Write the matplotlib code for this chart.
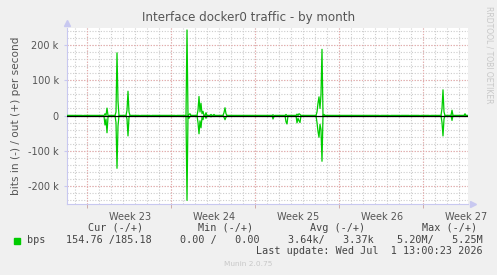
import numpy as np
import matplotlib.pyplot as plt

# month view, one sample every 2 hours, hours counted from the left edge
spike_hours = [32, 74, 76, 78, 80, 82, 98, 100, 102, 120, 122, 124, 146, 168, 218,
               240, 244, 246, 262, 264, 266, 268, 270, 272, 278, 288, 294,
               314, 316, 318, 412, 414, 438, 440, 460, 462, 464, 466,
               500, 502, 504, 506, 508, 510, 514,
               626, 646, 666, 686, 706, 726, 750, 752, 754, 770, 796]
out_k = [0, 0, 5, 0, 21, 0, 10, 178, 40, 15, 69, 10, 0, 0, 0,
         243, 3, 5, 15, 54, 10, 35, 5, 12, 8, 3, 3,
         8, 22, 5, 2, 0, 3, 0, 4, 0, 5, 3,
         10, 35, 53, 20, 60, 188, 3,
         0, 0, 0, 0, 0, 0, 20, 73, 10, 15, 5]
in_k = [2, 2, 27, 10, 49, 5, 20, 150, 30, 10, 58, 5, 2, 2, 2,
        241, 8, 3, 20, 52, 15, 35, 5, 12, 8, 4, 3,
        5, 12, 5, 10, 3, 18, 24, 21, 8, 15, 20,
        20, 45, 62, 25, 40, 130, 3,
        2, 2, 2, 2, 2, 2, 20, 58, 10, 14, 3]

week_labels = ["Week 23", "Week 24", "Week 25", "Week 26", "Week 27"]
ytick_vals = [-200, -100, 0, 100, 200]
ytick_labels = ["-200 k", "-100 k", "0", "100 k", "200 k"]

legend_head = ["Cur (-/+)", "Min (-/+)", "Avg (-/+)", "Max (-/+)"]
legend_vals = ["154.76 /185.18", "0.00 /   0.00", "3.64k/   3.37k", "5.20M/   5.25M"]

t = np.arange(0, 804, 2)
out = np.zeros(len(t))
inn = np.zeros(len(t))
for h, o, i in zip(spike_hours, out_k, in_k):
    out[h // 2] = o
    inn[h // 2] = -i

W, H = 497, 275
fig = plt.figure(figsize=(W / 100, H / 100), dpi=100, facecolor='#f0f0f0')
ax = fig.add_axes([67 / W, 1 - 203.5 / H, 401 / W, 176 / H])
ax.set_facecolor('white')
ax.set_xlim(0, 802)
ax.set_ylim(-250, 250)

# grid: days / 20k minor, weeks / 100k major
for x in range(16, 802, 24):
    ax.axvline(x, color='#cccccc', lw=0.8, ls=(0, (1, 1.5)), zorder=1)
for y in range(-240, 250, 20):
    ax.axhline(y, color='#cccccc', lw=0.8, ls=(0, (1, 1.5)), zorder=1)
for x in range(40, 802, 168):
    ax.axvline(x, color='#e8a8a8', lw=0.8, ls=(0, (1, 1.5)), zorder=1)
for y in ytick_vals:
    ax.axhline(y, color='#e8a8a8', lw=0.8, ls=(0, (1, 1.5)), zorder=1)

ax.plot(t, out, color='#00cc00', lw=0.9, zorder=3)
ax.plot(t, inn, color='#00cc00', lw=0.9, zorder=3)
ax.axhline(0, color='black', lw=0.9, zorder=4)

for s in ['top', 'right']:
    ax.spines[s].set_visible(False)
for s in ['left', 'bottom']:
    ax.spines[s].set_color('#c8c8f0')
    ax.spines[s].set_linewidth(0.8)

ax.set_xticks(range(126, 803, 168))
ax.set_xticklabels(week_labels)
ax.set_xticks(range(40, 802, 168), minor=True)
ax.tick_params(axis='x', which='major', length=0, pad=6, labelsize=7, labelcolor='#555555')
ax.tick_params(axis='x', which='minor', length=3, color='#c8a0a0')
ax.set_yticks(ytick_vals)
ax.set_yticklabels(ytick_labels)
ax.tick_params(axis='y', length=2, color='#c8c8f0', labelsize=7, labelcolor='#555555', pad=4)

ax.plot([0], [262], marker='^', ms=4, color='#c8c8f0', clip_on=False)
ax.plot([812], [-250], marker='>', ms=4, color='#c8c8f0', clip_on=False)

ax.set_ylabel("bits in (-) / out (+) per second", fontsize=7.6, color='#555555', labelpad=5)
fig.text(249 / W, 1 - 17 / H, "Interface docker0 traffic - by month", ha='center', va='center',
         fontsize=8.6, color='#555555')
fig.text(489 / W, 1 - 6 / H, "RRDTOOL / TOBI OETIKER", rotation=270, ha='center', va='top',
         fontsize=5.5, color='#c8c8c8')

mono = dict(family='DejaVu Sans Mono', fontsize=7.3, color='#444444', va='center')
for txt, xr in zip(legend_head, [143, 253, 365, 477]):
    fig.text(xr / W, 1 - 228 / H, txt, ha='right', **mono)
for txt, xr in zip(legend_vals, [152, 260, 374, 483]):
    fig.text(xr / W, 1 - 240 / H, txt, ha='right', **mono)
fig.text(27 / W, 1 - 240 / H, "bps", ha='left', **mono)
fig.patches.append(plt.Rectangle((14 / W, 1 - 243.5 / H), 6 / W, 6 / H, transform=fig.transFigure,
                                 color='#00cc00', figure=fig))
fig.text(483 / W, 1 - 251.5 / H, "Last update: Wed Jul  1 13:00:23 2026", ha='right', **mono)
fig.text(248 / W, 1 - 264 / H, "Munin 2.0.75", ha='center', va='center', fontsize=5.3, color='#c8c8c8')

fig.savefig('out.png', dpi=100, facecolor=fig.get_facecolor())
